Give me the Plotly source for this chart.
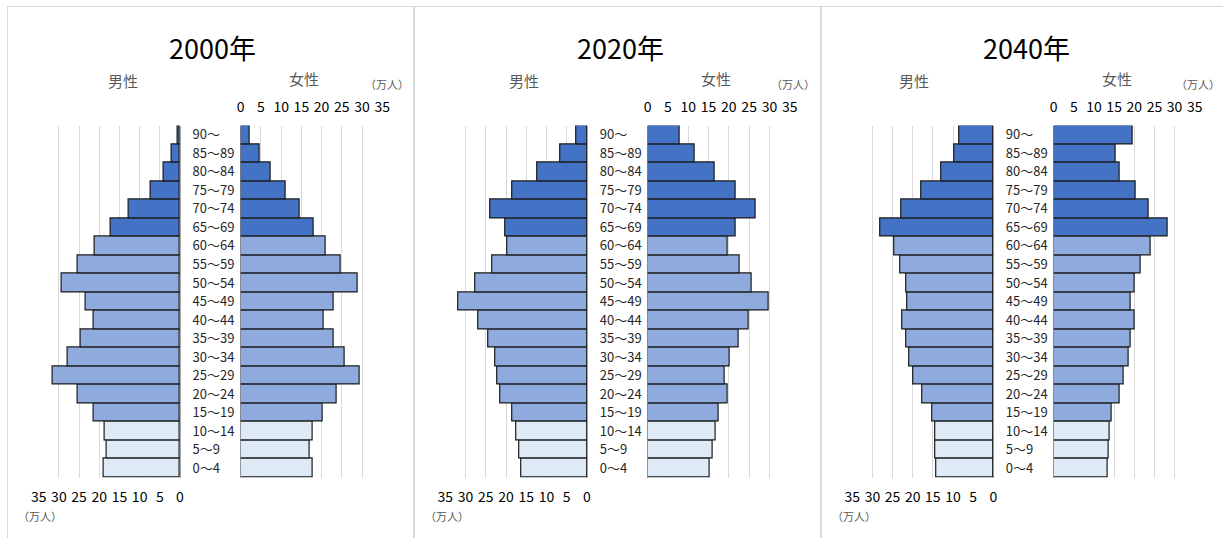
import plotly.graph_objects as go

W, H = 1223, 538

ages = ["0～4", "5～9", "10～14", "15～19", "20～24", "25～29", "30～34", "35～39",
        "40～44", "45～49", "50～54", "55～59", "60～64", "65～69", "70～74",
        "75～79", "80～84", "85～89", "90～"]

years = ["2000年", "2020年", "2040年"]

male_2000 = [18.8, 18.1, 18.7, 21.5, 25.4, 31.6, 27.9, 24.6, 21.5, 23.3,
             29.2, 25.4, 21.1, 17.2, 12.8, 7.3, 4.0, 2.1, 0.6]
female_2000 = [17.9, 17.1, 17.7, 20.2, 23.8, 29.5, 25.8, 22.9, 20.4, 22.9,
               28.9, 24.8, 20.9, 18.1, 14.5, 11.1, 7.5, 4.6, 2.1]
male_2020 = [16.2, 16.6, 17.4, 18.4, 21.5, 22.2, 22.7, 24.4, 26.9, 31.7,
             27.5, 23.5, 19.8, 20.3, 23.8, 18.4, 12.4, 6.7, 2.6]
female_2020 = [15.4, 15.9, 16.7, 17.4, 19.6, 19.1, 20.2, 22.4, 24.8, 29.8,
               25.7, 22.6, 19.7, 21.6, 26.5, 21.6, 16.4, 11.7, 7.9]
male_2040 = [14.1, 14.3, 14.4, 15.1, 17.7, 19.9, 20.9, 21.5, 22.5, 21.3,
             21.6, 23.0, 24.6, 28.0, 22.8, 17.9, 12.8, 9.7, 8.4]
female_2040 = [13.3, 13.6, 13.8, 14.3, 16.3, 17.3, 18.5, 19.2, 20.0, 19.2,
               20.0, 21.6, 24.0, 28.2, 23.7, 20.3, 16.5, 15.5, 19.6]

tick_vals = [0, 5, 10, 15, 20, 25, 30, 35]
tick_text = ["0", "5", "10", "15", "20", "25", "30", "35"]

male_label = "男性"
female_label = "女性"
unit_label = "（万人）"

males = [male_2000, male_2020, male_2040]
females = [female_2000, female_2020, female_2040]

FONT = "Noto Sans CJK JP"
DARK, MID, LIGHT = "#4472C4", "#8FAADC", "#DEEBF7"
colors = [LIGHT if i < 3 else (MID if i < 13 else DARK) for i in range(len(ages))]

# layout geometry (pixels)
male_x = [(38.7, 180.0), (445.3, 587.0), (852.3, 993.3)]
female_x = [(240.7, 382.3), (647.7, 789.7), (1053.7, 1194.7)]
label_x = [191.5, 598.8, 1004.8]
title_x = [212.5, 620.0, 1026.5]
male_lbl_x = [122.5, 524.3, 914.3]
female_lbl_x = [304.0, 715.7, 1117.3]
unit_top_x = [386.5, 792.5, 1198.0]
unit_bot_x = [39.5, 446.7, 853.5]
border_x = [7.5, 413.5, 414.5, 820.5, 821.5]
border_top = 6.5
plot_top, plot_bot = 125.5, 477.5

def px(x):
    return x / W

def py(y):
    return 1 - y / H

fig = go.Figure()
layout = dict(
    width=W, height=H, autosize=False,
    margin=dict(l=0, r=0, t=0, b=0, pad=0, autoexpand=False),
    paper_bgcolor="white", plot_bgcolor="rgba(0,0,0,0)",
    showlegend=False, bargap=0,
    font=dict(family=FONT, color="#262626"),
)

ydom = [py(plot_bot), py(plot_top)]
annotations = []
shapes = []

for k in range(3):
    yname = "y" if k == 0 else f"y{k + 1}"
    ykey = "yaxis" if k == 0 else f"yaxis{k + 1}"
    mi, fi = 2 * k + 1, 2 * k + 2
    mname = "x" if mi == 1 else f"x{mi}"
    mkey = "xaxis" if mi == 1 else f"xaxis{mi}"
    fname, fkey = f"x{fi}", f"xaxis{fi}"

    fig.add_trace(go.Bar(
        x=males[k], y=ages, orientation="h", xaxis=mname, yaxis=yname,
        marker=dict(color=colors, line=dict(color="#1a1a1a", width=1.2)),
        hoverinfo="x+y",
    ))
    fig.add_trace(go.Bar(
        x=females[k], y=ages, orientation="h", xaxis=fname, yaxis=yname,
        marker=dict(color=colors, line=dict(color="#1a1a1a", width=1.2)),
        hoverinfo="x+y",
    ))

    common = dict(
        showgrid=True, gridcolor="#D9D9D9", gridwidth=1,
        zeroline=True, zerolinecolor="#A6A6A6", zerolinewidth=1.3,
        tickvals=tick_vals, ticktext=tick_text, ticks="",
        showline=False, fixedrange=True, automargin=False,
        tickfont=dict(family=FONT, size=14, color="#000000"),
        anchor=yname,
    )
    layout[mkey] = dict(common, range=[35, 0],
                        domain=[px(male_x[k][0]), px(male_x[k][1])],
                        side="bottom", ticklabelstandoff=9)
    layout[fkey] = dict(common, range=[0, 35],
                        domain=[px(female_x[k][0]), px(female_x[k][1])],
                        side="top", ticklabelstandoff=10)
    layout[ykey] = dict(
        type="category", categoryorder="array", categoryarray=ages,
        range=[-0.5, len(ages) - 0.5], domain=ydom,
        anchor="free", position=px(label_x[k]), side="right",
        showgrid=False, zeroline=False, showline=False, ticks="",
        automargin=False,
        tickfont=dict(family=FONT, size=13, color="#262626"),
        fixedrange=True,
    )

    annotations += [
        dict(text=years[k], x=px(title_x[k]), y=py(47), xref="paper", yref="paper",
             showarrow=False, xanchor="center", yanchor="middle",
             font=dict(family=FONT, size=27, color="#000000")),
        dict(text=male_label, x=px(male_lbl_x[k]), y=py(80), xref="paper", yref="paper",
             showarrow=False, xanchor="center", yanchor="middle",
             font=dict(family=FONT, size=15, color="#595959")),
        dict(text=female_label, x=px(female_lbl_x[k]), y=py(79), xref="paper", yref="paper",
             showarrow=False, xanchor="center", yanchor="middle",
             font=dict(family=FONT, size=15, color="#595959")),
        dict(text=unit_label, x=px(unit_top_x[k]), y=py(84), xref="paper", yref="paper",
             showarrow=False, xanchor="center", yanchor="middle",
             font=dict(family=FONT, size=11, color="#595959")),
        dict(text=unit_label, x=px(unit_bot_x[k]), y=py(516), xref="paper", yref="paper",
             showarrow=False, xanchor="center", yanchor="middle",
             font=dict(family=FONT, size=11, color="#595959")),
    ]

# panel borders (kept inside the paper)
for bx in border_x:
    shapes.append(dict(type="line", xref="paper", yref="paper",
                       x0=px(bx), x1=px(bx), y0=0, y1=py(border_top),
                       line=dict(color="#D9D9D9", width=1), layer="below"))
shapes.append(dict(type="line", xref="paper", yref="paper",
                   x0=px(border_x[0]), x1=1, y0=py(border_top), y1=py(border_top),
                   line=dict(color="#D9D9D9", width=1), layer="below"))

layout["annotations"] = annotations
layout["shapes"] = shapes
fig.update_layout(**layout)

fig.write_html(
    "out.html",
    config={"responsive": False, "displayModeBar": False},
    post_script="document.body.style.margin='0';document.body.style.padding='0';"
                "document.body.style.overflow='hidden';",
)
